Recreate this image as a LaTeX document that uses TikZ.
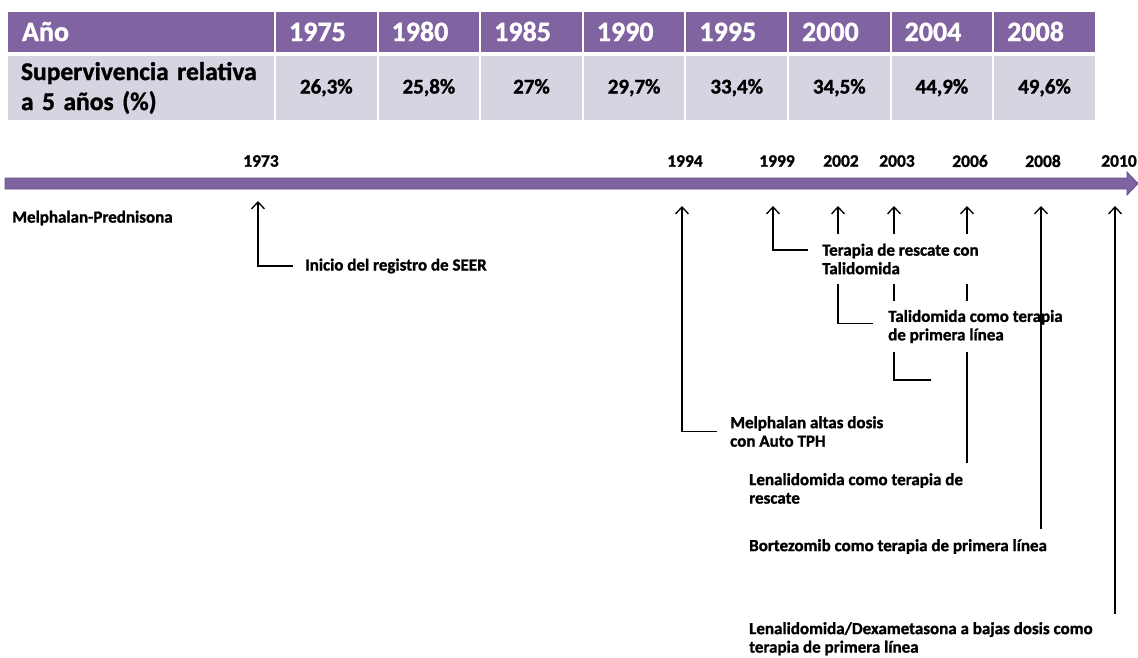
\documentclass[tikz,border=0pt]{standalone}
\usepackage{fontspec}
\setmainfont{Carlito}[BoldFeatures={FakeBold=1.2}]
\usetikzlibrary{arrows.meta,backgrounds}

\definecolor{headpurple}{RGB}{128,100,162}
\definecolor{rowlilac}{RGB}{216,211,225}
\definecolor{baredge}{RGB}{100,78,128}

\tikzset{
  headcell/.style={fill=headpurple, text=white, font=\fontsize{28}{30}\selectfont\bfseries,
    minimum height=40pt, inner xsep=13pt, text width=74.6pt, align=left,
    text height=18pt, text depth=0pt},
  valcell/.style={fill=rowlilac, font=\fontsize{21}{24}\selectfont\bfseries,
    minimum height=64pt, minimum width=100.6pt, align=center,
    text height=14pt, text depth=3pt},
  yr/.style={font=\fontsize{17.5}{18}\selectfont\bfseries},
  evt/.style={font=\fontsize{17}{18.5}\selectfont\bfseries, align=left, anchor=west, inner sep=0pt},
  conn/.style={draw, line width=1.3pt, -{Straight Barb[length=7pt,width=13pt]}}
}

\begin{document}
\begin{tikzpicture}[x=1pt, y=-1pt]
  \useasboundingbox (0,0) rectangle (1138,657);

  % table
  \node[headcell, text width=238pt, inner xsep=14pt] (hano) at (141,32) {Año};
  \node[headcell] (h1975) at (326.3,32) {1975};
  \node[headcell] (h1980) at (428.9,32) {1980};
  \node[headcell] (h1985) at (531.5,32) {1985};
  \node[headcell] (h1990) at (634.1,32) {1990};
  \node[headcell] (h1995) at (736.7,32) {1995};
  \node[headcell] (h2000) at (839.3,32) {2000};
  \node[headcell] (h2004) at (941.9,32) {2004};
  \node[headcell] (h2008) at (1044.5,32) {2008};

  \node[valcell, minimum width=266pt, text width=240pt, inner xsep=13pt, align=left,
    text height=, text depth=,
    font=\fontsize{25.5}{30}\selectfont\bfseries] (sup) at (141,88)
    {Supervivencia relativa\\a 5 años (\%)};
  \node[valcell] (v1975) at (326.3,88) {26,3\%};
  \node[valcell] (v1980) at (428.9,88) {25,8\%};
  \node[valcell] (v1985) at (531.5,88) {27\%};
  \node[valcell] (v1990) at (634.1,88) {29,7\%};
  \node[valcell] (v1995) at (736.7,88) {33,4\%};
  \node[valcell] (v2000) at (839.3,88) {34,5\%};
  \node[valcell] (v2004) at (941.9,88) {44,9\%};
  \node[valcell] (v2008) at (1044.5,88) {49,6\%};

  % time line
  \filldraw[fill=headpurple, draw=baredge, line width=0.8pt]
    (5,178) -- (1127,178) -- (1127,172) -- (1138,183.5) -- (1127,195)
    -- (1127,189) -- (5,189) -- cycle;

  \node[yr] (y1973) at (261,161) {1973};
  \node[yr] (y1994) at (685,161) {1994};
  \node[yr] (y1999) at (777,161) {1999};
  \node[yr] (y2002) at (841,161) {2002};
  \node[yr] (y2003) at (897,161) {2003};
  \node[yr] (y2006) at (970,161) {2006};
  \node[yr] (y2008) at (1043,161) {2008};
  \node[yr] (y2010) at (1119,161) {2010};

  \coordinate (t1973) at (258,201);
  \coordinate (t1994) at (682,206);
  \coordinate (t1999) at (773,206);
  \coordinate (t2002) at (838,206);
  \coordinate (t2003) at (894,206);
  \coordinate (t2006) at (967,206);
  \coordinate (t2008) at (1041,206);
  \coordinate (t2010) at (1115,206);
  \coordinate (c2003) at (931,380);

  % events
  \node[evt] (mp) at (12,218) {Melphalan-Prednisona};
  \node[evt] (seer) at (305,266) {Inicio del registro de SEER};
  \node[evt] (aut) at (730,431.5) {Melphalan altas dosis\\con Auto TPH};
  \node[evt, fill=white, inner xsep=6pt, inner ysep=10pt] (ter) at (816,259)
    {Terapia de rescate con\\Talidomida};
  \node[evt, fill=white, inner xsep=4pt, inner ysep=9pt] (tal) at (884,326.5)
    {Talidomida como terapia\\de primera línea};
  \node[evt, anchor=north west] (lre) at (749,473) {Lenalidomida como terapia de\\rescate};
  \node[evt, anchor=north west] (bor) at (749,539) {Bortezomib como terapia de primera línea};
  \node[evt, anchor=north west] (ldx) at (749,622)
    {Lenalidomida/Dexametasona a bajas dosis como\\terapia de primera línea};

  \begin{scope}[on background layer]
    \draw[conn] ([xshift=-12pt]seer.west) -| (t1973);
    \draw[conn] ([xshift=-13pt]aut.west) -| (t1994);
    \draw[conn] ([xshift=-8pt,yshift=9pt]ter.west) -| (t1999);
    \draw[conn] ([xshift=-11pt,yshift=3pt]tal.west) -| (t2002);
    \draw[conn] (c2003) -| (t2003);
    \draw[conn] ([yshift=10pt]t2006 |- lre.north) -- (t2006);
  \end{scope}
  \draw[conn] ([yshift=10pt]t2008 |- bor.north) -- (t2008);
  \draw[conn] ([yshift=8pt]t2010 |- ldx.north) -- (t2010);
\end{tikzpicture}
\end{document}
